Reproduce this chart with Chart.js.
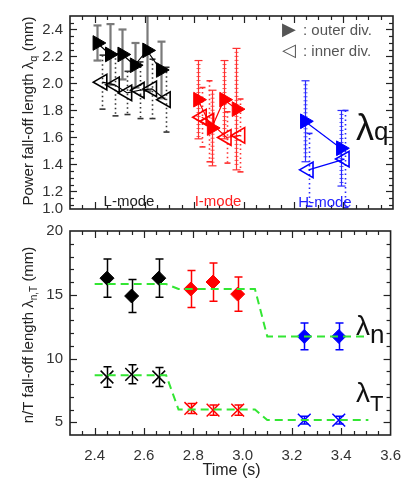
<!DOCTYPE html>
<html><head><meta charset="utf-8">
<script src="https://cdn.jsdelivr.net/npm/chart.js@4.4.1/dist/chart.umd.min.js"></script>
<style>
html,body{margin:0;padding:0;background:#fff;width:413px;height:479px;overflow:hidden;position:relative}
#top{position:absolute;left:0;top:0}
#bot{position:absolute;left:0;top:215px}
</style></head><body>
<canvas id="top" width="413" height="225"></canvas>
<canvas id="bot" width="413" height="264"></canvas>
<script>
// ---------------- data ----------------
// Top panel: power fall-off length lambda_q (mm)
const lOuterT   = [2.41, 2.46, 2.51, 2.56, 2.61, 2.665];
const lOuterQ   = [2.30, 2.215, 2.215, 2.135, 2.245, 2.10];
const lOuterErr = [0.13, 0.225, 0.185, 0.165, 0.30, 0.21];
const lInnerT   = [2.43, 2.48, 2.53, 2.58, 2.63, 2.685];
const lInnerQ   = [2.01, 1.99, 1.93, 1.95, 1.96, 1.88];
const lInnerErr = [0.20, 0.23, 0.16, 0.21, 0.22, 0.24];

const iOuterT   = [2.815, 2.87, 2.92, 2.97];
const iOuterQ   = [1.88, 1.67, 1.88, 1.81];
const iOuterErr = [0.29, 0.28, 0.29, 0.45];
const iInnerT   = [2.83, 2.86, 2.93, 2.985];
const iInnerQ   = [1.75, 1.72, 1.60, 1.615];
const iInnerErr = [0.22, 0.30, 0.19, 0.27];

const hOuterT   = [3.245, 3.39];
const hOuterQ   = [1.72, 1.52];
const hOuterErr = [0.30, 0.28];
const hInnerT   = [3.26, 3.405];
const hInnerQ   = [1.36, 1.44];
const hInnerErr = [0.27, 0.36];

const qTickValues = [1.07, 1.2, 1.4, 1.6, 1.8, 2.0, 2.2, 2.4];
const qTickLabels = ['1.0', '1.2', '1.4', '1.6', '1.8', '2.0', '2.2', '2.4'];

// Bottom panel: n / T fall-off lengths (mm)
const timeL = [2.45, 2.55, 2.66];
const timeI = [2.79, 2.88, 2.98];
const timeH = [3.25, 3.39];
const lamNL = [16.3, 14.9, 16.3];   const errNL = [1.5, 1.3, 1.5];
const lamNI = [15.45, 16.0, 15.05]; const errNI = [1.45, 1.5, 1.35];
const lamNH = [11.73, 11.73];       const errNH = [1.05, 1.05];
const lamTL = [8.55, 8.76, 8.55];   const errTL = [0.8, 0.75, 0.75];
const lamTI = [6.08, 5.95, 5.95];   const errTI = [0.4, 0.4, 0.4];
const lamTH = [5.17, 5.17];         const errTH = [0.3, 0.3];

const fitTime = [2.40, 2.69, 2.74, 3.05, 3.10, 3.51];
const fitN    = [15.84, 15.84, 15.45, 15.45, 11.73, 11.73];
const fitT    = [8.68, 8.68, 6.0, 6.0, 5.17, 5.17];

const nTickValues = [5, 10, 15, 20];
const xTickValues = [2.4, 2.6, 2.8, 3.0, 3.2, 3.6 - 0.2, 3.6];

// ---------------- helpers ----------------
const FONT = "'Liberation Sans', Arial, Helvetica, sans-serif";
const pts = (xs, ys) => xs.map((x, i) => ({ x: x, y: ys[i] }));

function line(ctx, x1, y1, x2, y2) { ctx.beginPath(); ctx.moveTo(x1, y1); ctx.lineTo(x2, y2); ctx.stroke(); }

function makeFrame(xMaj, xMin, yMaj, yMin) {
  return {
    id: 'frame',
    afterDatasetsDraw(chart) {
      const { ctx, chartArea: a, scales: { x, y } } = chart;
      const gen = (min, max, major, minor) => {
        const out = [];
        for (let k = Math.ceil(min / minor - 1e-6); k * minor <= max + 1e-9; k++) {
          const v = k * minor;
          if (Math.abs(v - min) < 1e-6 || Math.abs(v - max) < 1e-6) continue;
          out.push({ v, major: Math.abs(v / major - Math.round(v / major)) < 1e-6 });
        }
        return out;
      };
      ctx.save();
      ctx.strokeStyle = '#222';
      ctx.lineWidth = 1.2;
      for (const t of gen(x.min, x.max, xMaj, xMin)) {
        const px = Math.round(x.getPixelForValue(t.v)) + 0.5, L = t.major ? 7 : 4;
        line(ctx, px, a.bottom, px, a.bottom - L);
        line(ctx, px, a.top, px, a.top + L);
      }
      for (const t of gen(y.min, y.max, yMaj, yMin)) {
        const py = Math.round(y.getPixelForValue(t.v)) + 0.5, L = t.major ? 7 : 4;
        line(ctx, a.left, py, a.left + L, py);
        line(ctx, a.right, py, a.right - L, py);
      }
      ctx.lineWidth = 1.6;
      ctx.strokeRect(a.left, a.top, a.right - a.left, a.bottom - a.top);
      ctx.restore();
    }
  };
}

const errPlugin = {
  id: 'errbars',
  beforeDatasetsDraw(chart) {
    const { ctx, chartArea: a } = chart;
    const ys = chart.scales.y;
    ctx.save();
    ctx.beginPath(); ctx.rect(a.left, a.top, a.right - a.left, a.bottom - a.top); ctx.clip();
    chart.data.datasets.forEach((d, i) => {
      if (!d.errors) return;
      const meta = chart.getDatasetMeta(i);
      ctx.strokeStyle = d.errColor;
      ctx.lineWidth = d.errWidth;
      meta.data.forEach((el, j) => {
        const v = d.data[j].y, e = d.errors[j];
        const y1 = ys.getPixelForValue(v + e), y2 = ys.getPixelForValue(v - e);
        const x = Math.round(el.x) + 0.5;
        ctx.setLineDash(d.errDash || []);
        line(ctx, x, y1, x, y2);
        ctx.setLineDash([]);
        const c = d.errCap;
        line(ctx, x - c, y1, x + c, y1);
        line(ctx, x - c, y2, x + c, y2);
        if (d.errRuler) {
          ctx.lineWidth = 0.8;
          for (let yy = y1 + 4; yy < y2 - 2; yy += 4) line(ctx, x - 2, yy, x + 2, yy);
          ctx.lineWidth = d.errWidth;
        }
      });
    });
    ctx.restore();
  }
};

function textParts(ctx, x, y, parts, align, rotate) {
  // parts: [text, size, dy]
  ctx.save();
  ctx.translate(x, y);
  if (rotate) ctx.rotate(-Math.PI / 2);
  let w = 0;
  const ws = parts.map(p => { ctx.font = p[1] + 'px ' + FONT; const m = ctx.measureText(p[0]).width; w += m; return m; });
  let cx = align === 'center' ? -w / 2 : 0;
  ctx.textBaseline = 'alphabetic';
  ctx.textAlign = 'left';
  parts.forEach((p, i) => {
    ctx.font = (p[3] || '') + p[1] + 'px ' + FONT;
    ctx.fillText(p[0], cx, p[2] || 0);
    cx += ws[i];
  });
  ctx.restore();
}

// ---------------- top chart ----------------
function qSet(xs, ys, errs, color, filled, errStyle) {
  return Object.assign({
    data: pts(xs, ys),
    errors: errs,
    showLine: true,
    borderColor: color,
    borderWidth: 1.2,
    pointStyle: 'triangle',
    rotation: filled ? 90 : -90,
    pointRadius: filled ? 8.5 : 9,
    pointBackgroundColor: filled ? color : 'rgba(0,0,0,0)',
    pointBorderColor: color,
    pointBorderWidth: filled ? 1 : 1.6
  }, errStyle);
}
const solidGray = { errColor: '#7a7a7a', errWidth: 2.2, errCap: 4 };
const dotBlack  = { errColor: '#333', errWidth: 1.6, errCap: 3, errDash: [1.5, 3] };
const solidRed  = { errColor: '#ff3030', errWidth: 1.2, errCap: 4, errRuler: true };
const dotRed    = { errColor: '#ff3030', errWidth: 1.6, errCap: 3, errDash: [1.5, 3] };
const solidBlue = { errColor: '#2a2aff', errWidth: 1.2, errCap: 4, errRuler: true };
const dotBlue   = { errColor: '#2a2aff', errWidth: 1.6, errCap: 3, errDash: [1.5, 3] };

const topNotes = {
  id: 'topNotes',
  afterDraw(chart) {
    const ctx = chart.ctx;
    ctx.fillStyle = '#222';
    textParts(ctx, 33, 111, [['Power fall-off length \u03bb', 15], ['q', 11, 4], [' (mm)', 15]], 'center', true);
    ctx.fillStyle = '#222';
    textParts(ctx, 129, 206, [['L-mode', 15]], 'center');
    ctx.fillStyle = '#ff2020';
    textParts(ctx, 218, 206, [['I-mode', 15]], 'center');
    ctx.fillStyle = '#2020ff';
    textParts(ctx, 325, 207, [['H-mode', 15]], 'center');
    ctx.fillStyle = '#111';
    textParts(ctx, 356, 140, [['\u03bb', 36], ['q', 26]], 'left');
    // legend
    ctx.save();
    ctx.fillStyle = '#555';
    ctx.font = "18px 'DejaVu Sans'";
    ctx.textBaseline = 'middle'; ctx.textAlign = 'center';
    ctx.fillText('\u25B6', 289, 30);
    ctx.fillText('\u25C1', 289, 51);
    ctx.restore();
    ctx.fillStyle = '#555';
    textParts(ctx, 303, 35, [[': outer div.', 15]], 'left');
    textParts(ctx, 303, 56, [[': inner div.', 15]], 'left');
  }
};

new Chart(document.getElementById('top'), {
  type: 'scatter',
  data: {
    datasets: [
      qSet(lOuterT, lOuterQ, lOuterErr, '#000', true, solidGray),
      qSet(lInnerT, lInnerQ, lInnerErr, '#000', false, dotBlack),
      qSet(iOuterT, iOuterQ, iOuterErr, '#ff0000', true, solidRed),
      qSet(iInnerT, iInnerQ, iInnerErr, '#ff0000', false, dotRed),
      qSet(hOuterT, hOuterQ, hOuterErr, '#0000ff', true, solidBlue),
      qSet(hInnerT, hInnerQ, hInnerErr, '#0000ff', false, dotBlue)
    ]
  },
  options: {
    responsive: false, animation: false, devicePixelRatio: 1, events: [],
    layout: { padding: { top: 15, right: 20, bottom: 14, left: 0 } },
    plugins: { legend: { display: false }, tooltip: { enabled: false } },
    scales: {
      x: { type: 'linear', min: 2.3, max: 3.6, display: false },
      y: {
        type: 'linear', min: 1.07, max: 2.5,
        afterBuildTicks: s => { s.ticks = qTickValues.map(v => ({ value: v })); },
        afterFit: s => { s.width = 70; },
        ticks: { autoSkip: false, padding: 7, color: '#333', font: { size: 15, family: FONT },
                 callback: (v, i) => qTickLabels[i] },
        grid: { display: false, drawTicks: false },
        border: { display: false }
      }
    }
  },
  plugins: [errPlugin, makeFrame(0.2, 0.05, 0.2, 0.05), topNotes]
});

// ---------------- bottom chart ----------------
function nSet(xs, ys, errs, color, style) {
  return {
    data: pts(xs, ys),
    errors: errs, errColor: color, errWidth: 1.5, errCap: 4,
    showLine: false,
    pointStyle: style,
    pointRadius: style === 'rectRot' ? 7 : 9,
    pointBackgroundColor: color,
    pointBorderColor: color,
    pointBorderWidth: style === 'rectRot' ? 1 : 1.5
  };
}
function fitSet(xs, ys) {
  return {
    data: pts(xs, ys), showLine: true, borderColor: '#33e633', borderWidth: 2,
    borderDash: [8, 5], pointRadius: 0, tension: 0
  };
}

const botNotes = {
  id: 'botNotes',
  afterDraw(chart) {
    const ctx = chart.ctx;
    ctx.fillStyle = '#222';
    textParts(ctx, 33, 120, [['n/T fall-off length \u03bb', 15], ['n,T', 10, 4], [' (mm)', 15]], 'center', true);
    textParts(ctx, 231.5, 259.5, [['Time (s)', 16]], 'center');
    ctx.fillStyle = '#111';
    textParts(ctx, 356, 120, [['\u03bb', 28], ['n', 26, 8]], 'left');
    textParts(ctx, 356, 187, [['\u03bb', 28], ['T', 22, 9]], 'left');
  }
};

new Chart(document.getElementById('bot'), {
  type: 'scatter',
  data: {
    datasets: [
      fitSet(fitTime, fitN),
      fitSet(fitTime, fitT),
      nSet(timeL, lamNL, errNL, '#000000', 'rectRot'),
      nSet(timeI, lamNI, errNI, '#ff0000', 'rectRot'),
      nSet(timeH, lamNH, errNH, '#0000ff', 'rectRot'),
      nSet(timeL, lamTL, errTL, '#000000', 'crossRot'),
      nSet(timeI, lamTI, errTI, '#ff0000', 'crossRot'),
      nSet(timeH, lamTH, errTH, '#0000ff', 'crossRot')
    ]
  },
  options: {
    responsive: false, animation: false, devicePixelRatio: 1, events: [],
    layout: { padding: { top: 15, right: 20, bottom: 0, left: 0 } },
    plugins: { legend: { display: false }, tooltip: { enabled: false } },
    scales: {
      x: {
        type: 'linear', min: 2.3, max: 3.6,
        afterBuildTicks: s => { s.ticks = xTickValues.map(v => ({ value: v })); },
        afterFit: s => { s.height = 44; },
        ticks: { autoSkip: false, maxRotation: 0, padding: 12, color: '#333', font: { size: 15, family: FONT },
                 callback: v => v.toFixed(1) },
        grid: { display: false, drawTicks: false },
        border: { display: false }
      },
      y: {
        type: 'linear', min: 4, max: 20,
        afterBuildTicks: s => { s.ticks = nTickValues.map(v => ({ value: v })); },
        afterFit: s => { s.width = 70; },
        ticks: { autoSkip: false, padding: 7, color: '#333', font: { size: 15, family: FONT } },
        grid: { display: false, drawTicks: false },
        border: { display: false }
      }
    }
  },
  plugins: [errPlugin, makeFrame(0.2, 0.05, 5, 1), botNotes]
});
</script>
</body></html>
